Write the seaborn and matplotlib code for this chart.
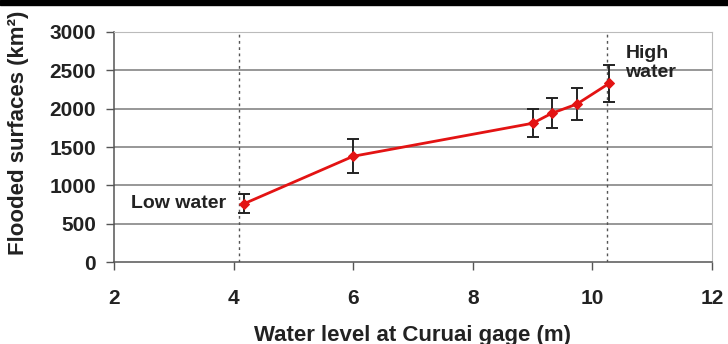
import numpy as np
import pandas as pd
import seaborn as sns
import matplotlib.pyplot as plt

# values
water_level = [4.17, 6.0, 9.0, 9.32, 9.74, 10.28]
flooded_area = [760, 1380, 1810, 1940, 2060, 2330]
area_error = [125, 220, 185, 195, 210, 240]
low_high_levels = [4.09, 10.24]


def draw_chart():
    sns.set_style("white")
    plt.rcParams['font.family'] = ['Liberation Sans', 'DejaVu Sans']
    plt.rcParams['font.weight'] = 'bold'

    df = pd.DataFrame({"level": water_level, "area": flooded_area, "err": area_error})

    fig = plt.figure(figsize=(7.28, 3.44), dpi=100)
    ax = fig.add_axes([0.1566, 0.238, 0.978 - 0.1566, 0.907 - 0.238])

    # grid lines
    for yv in range(500, 3001, 500):
        ax.axhline(yv, color="#7a7a7a", lw=1.1, zorder=0)
    for xv in low_high_levels:
        ax.axvline(xv, color="#555555", lw=1, ls=(0, (2, 2.5)), zorder=1)

    ax.errorbar(df["level"], df["area"], yerr=df["err"], fmt="none",
                ecolor="#222222", elinewidth=1.4, capsize=4, capthick=1.4, zorder=2)
    sns.lineplot(data=df, x="level", y="area", ax=ax, color="#e31313", lw=2,
                 marker="D", markersize=5, markeredgecolor="#e31313", zorder=3)

    ax.set_xlim(2, 12)
    ax.set_ylim(0, 3000)
    ax.set_xticks(range(2, 13, 2))
    ax.set_yticks(range(0, 3001, 500))
    ax.set_xlabel("")
    ax.set_ylabel("")
    ax.tick_params(axis="y", direction="out", length=6, width=1, pad=7,
                   labelsize=15, left=True, color="#555555", labelcolor="#222222")
    ax.tick_params(axis="x", direction="out", length=6, width=1, pad=13,
                   labelsize=15, bottom=True, color="#555555", labelcolor="#222222")
    for lab in ax.get_xticklabels() + ax.get_yticklabels():
        lab.set_fontweight("bold")

    for side in ["top", "right"]:
        ax.spines[side].set_color("#bbbbbb")
    for side in ["left", "bottom"]:
        ax.spines[side].set_color("#555555")
        ax.spines[side].set_linewidth(1.1)

    ax.text(3.87, 760, "Low water", ha="right", va="center", fontsize=14,
            fontweight="bold", color="#222222")
    ax.text(10.55, 2590, "High\nwater", ha="left", va="center", fontsize=14,
            fontweight="bold", linespacing=1.15, color="#222222")

    fig.text(19 / 728, 1 - 255 / 344, "Flooded surfaces (km²)", rotation=90,
             ha="center", va="bottom", fontsize=16, fontweight="bold", color="#222222")
    fig.text(413 / 728, 1 - 335 / 344, "Water level at Curuai gage (m)",
             ha="center", va="center", fontsize=16, fontweight="bold", color="#222222")

    # black bar at the top edge
    fig.patches.append(plt.Rectangle((0, 1 - 5 / 344), 1, 5 / 344, transform=fig.transFigure,
                                     color="black", zorder=10))

    fig.savefig("out.png", dpi=100)


if __name__ == '__main__':
    draw_chart()
